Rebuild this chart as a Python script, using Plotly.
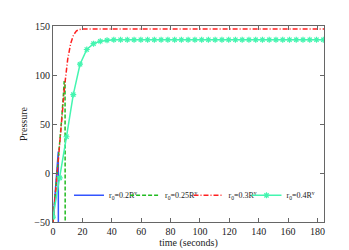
import plotly.graph_objects as go

# r0 = 0.2 R^v
t_02 = [0, 0.5, 1, 1.5, 2, 2.5, 3, 3.3, 3.6, 3.65]
p_02 = [-50, -40, -29, -18, -7, 4, 15, 21, 22, -50]

# r0 = 0.25 R^v
t_025 = [0, 1, 2, 3, 4, 5, 6, 7, 7.6, 8.2, 8.3]
p_025 = [-50, -33, -15, 3, 20, 38, 57, 78, 93, 93, -50]

# r0 = 0.3 R^v
t_03 = [0, 2, 4, 6, 8, 10, 12, 14, 16, 18, 20, 30, 60, 100, 140, 184.5]
p_03 = [-50, -15, 20, 55, 90, 116, 132, 141, 145, 146.5, 147, 147, 147, 147, 147, 147]

# r0 = 0.4 R^v
t_04 = [0, 4.6, 9.2, 13.8, 18.4, 23.0, 27.6, 32.2, 36.8, 41.4, 46.0, 50.6, 55.2, 59.8,
        64.4, 69.0, 73.6, 78.2, 82.8, 87.4, 92.0, 96.6, 101.2, 105.8, 110.4, 115.0,
        119.6, 124.2, 128.8, 133.4, 138.0, 142.6, 147.2, 151.8, 156.4, 161.0, 165.6,
        170.2, 174.8, 179.4, 184.0]
p_04 = [-45, -5, 37, 80, 111, 126, 132, 134.5, 135.5, 136, 136, 136, 136, 136,
        136, 136, 136, 136, 136, 136, 136, 136, 136, 136, 136, 136,
        136, 136, 136, 136, 136, 136, 136, 136, 136, 136, 136,
        136, 136, 136, 136]

x_ticks = [0, 20, 40, 60, 80, 100, 120, 140, 160, 180]
y_ticks = [-50, 0, 50, 100, 150]

fig = go.Figure()
fig.add_trace(go.Scatter(x=t_02, y=p_02, mode="lines", name="r<sub>0</sub>=0.2R<sup>v</sup>",
                         line=dict(color="#3355ff", width=1.5), legend="legend"))
fig.add_trace(go.Scatter(x=t_025, y=p_025, mode="lines", name="r<sub>0</sub>=0.25R<sup>v</sup>",
                         line=dict(color="#22bb22", width=1.5, dash="4px,2px"), legend="legend2"))
fig.add_trace(go.Scatter(x=t_03, y=p_03, mode="lines", name="r<sub>0</sub>=0.3R<sup>v</sup>",
                         line=dict(color="#ff2020", width=1.5, dash="5px,2px,1px,2px"), legend="legend3"))
fig.add_trace(go.Scatter(x=t_04, y=p_04, mode="lines+markers", name="r<sub>0</sub>=0.4R<sup>v</sup>",
                         line=dict(color="#44f5b0", width=1.5),
                         marker=dict(symbol="asterisk-open", size=5,
                                     line=dict(color="#44f5b0", width=1.2)), legend="legend4"))

axis_common = dict(showline=True, linecolor="#666666", linewidth=1, mirror="ticks",
                   ticks="inside", ticklen=4, tickcolor="#666666", showgrid=False,
                   zeroline=False, tickfont=dict(family="Liberation Serif", size=10, color="#222"))

leg = dict(orientation="h", y=0.21, xanchor="left", yanchor="top",
           bgcolor="rgba(0,0,0,0)", font=dict(size=8), itemwidth=30)

fig.update_layout(
    width=349, height=250,
    margin=dict(l=45, r=33, t=18, b=28),
    paper_bgcolor="white", plot_bgcolor="white",
    font=dict(family="Liberation Serif", size=10, color="#222"),
    xaxis=dict(range=[0, 184.5], tickvals=x_ticks,
               title=dict(text="time (seconds)", standoff=2, font=dict(size=10)), **axis_common),
    yaxis=dict(range=[-50, 150], tickvals=y_ticks,
               title=dict(text="Pressure", standoff=4, font=dict(size=10)), **axis_common),
    legend=dict(x=0.059, **leg),
    legend2=dict(x=0.266, **leg),
    legend3=dict(x=0.5, **leg),
    legend4=dict(x=0.714, **leg),
    showlegend=True,
)

fig.write_html("out.html")
